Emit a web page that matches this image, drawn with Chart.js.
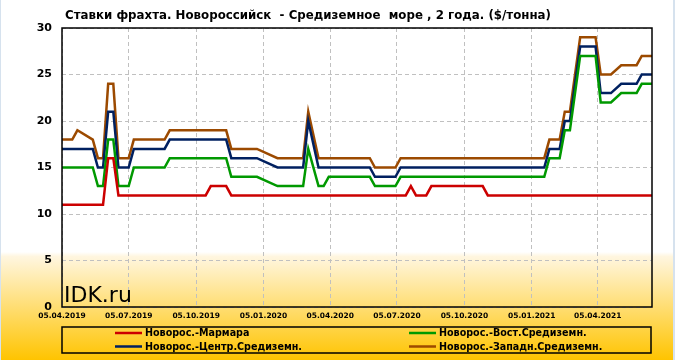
<!DOCTYPE html>
<html><head><meta charset="utf-8">
<script src="https://cdn.jsdelivr.net/npm/chart.js@4.4.1/dist/chart.umd.min.js"></script>
<style>html,body{margin:0;padding:0;background:#fff;overflow:hidden}canvas{display:block}</style>
</head><body>
<canvas id="c" width="675" height="360"></canvas>
<script>
// ---- data (x = days since 05.04.2019) ----
const chartTitle = "Ставки фрахта. Новороссийск  - Средиземное  море , 2 года. ($/тонна)";
const watermark = "IDK.ru";
const tickDays = [0, 91, 183, 275, 366, 457, 549, 641, 731];
const tickLabels = ["05.04.2019","05.07.2019","05.10.2019","05.01.2020","05.04.2020","05.07.2020","05.10.2020","05.01.2021","05.04.2021"];
const yTicks = [0, 5, 10, 15, 20, 25, 30];
const seriesNames = ["Новорос.-Мармара","Новорос.-Вост.Средиземн.","Новорос.-Центр.Средиземн.","Новорос.-Западн.Средиземн."];

const marmaraDays   = [0,56,63,70,77,196,203,224,231,469,476,483,497,504,574,581,805];
const marmaraValues = [11,11,16,16,12,12,13,13,12,12,13,12,12,13,13,12,12];

const eastDays   = [0,42,49,56,63,70,77,91,98,140,147,224,231,266,294,329,336,350,357,364,420,427,455,462,658,665,679,686,693,707,728,735,749,763,784,791,805];
const eastValues = [15,15,13,13,18,18,13,13,15,15,16,16,14,14,13,13,17,13,13,14,14,13,13,14,14,16,16,19,19,27,27,22,22,23,23,24,24];

const centralDays   = [0,42,49,56,63,70,77,91,98,140,147,224,231,266,294,329,336,350,420,427,455,462,658,665,679,686,693,707,728,735,749,763,784,791,805];
const centralValues = [17,17,15,15,21,21,15,15,17,17,18,18,16,16,15,15,20,15,15,14,14,15,15,17,17,20,20,28,28,23,23,24,24,25,25];

const westDays   = [0,14,21,42,49,56,63,70,77,91,98,140,147,224,231,266,294,329,336,350,420,427,455,462,658,665,679,686,693,707,728,735,749,763,784,791,805];
const westValues = [18,18,19,18,16,16,24,24,16,16,18,18,19,19,17,17,16,16,21,16,16,15,15,16,16,18,18,21,21,29,29,25,25,26,26,27,27];

const seriesColors = ["#cc0000","#009900","#002060","#9c4a00"];

// ---- build ----
function pts(days, vals){ return days.map((d,i)=>({x:d, y:vals[i]})); }
const seriesData = [pts(marmaraDays,marmaraValues), pts(eastDays,eastValues), pts(centralDays,centralValues), pts(westDays,westValues)];

function condensedText(ctx, text, x, y, font, sx){
  ctx.save();
  ctx.font = font;
  ctx.translate(x, y);
  ctx.scale(sx, 1);
  ctx.fillText(text, 0, 0);
  ctx.restore();
}
function scaleFor(ctx, font, refText, targetW){
  ctx.font = font;
  return Math.max(0.75, Math.min(1.15, targetW / ctx.measureText(refText).width));
}

const decor = {
  id: 'decor',
  beforeDraw(chart){
    const ctx = chart.ctx, W = chart.width, H = chart.height;
    ctx.save();
    ctx.fillStyle = '#ffffff';
    ctx.fillRect(0,0,W,H);
    const g = ctx.createLinearGradient(0,252,0,H);
    g.addColorStop(0,'rgba(255,255,255,1)');
    g.addColorStop(0.04,'#fff6e0');
    g.addColorStop(1,'#ffc400');
    ctx.fillStyle = g;
    ctx.fillRect(0,252,W,H-252);
    ctx.fillStyle = '#d6e2ee';
    ctx.fillRect(0,0,1,H);
    ctx.fillRect(W-2,0,2,H);
    ctx.restore();
  },
  afterDraw(chart){
    const ctx = chart.ctx, a = chart.chartArea;
    ctx.save();
    ctx.strokeStyle = '#000'; ctx.lineWidth = 1.5;
    ctx.strokeRect(a.left, a.top, a.right-a.left, a.bottom-a.top);
    // title
    ctx.fillStyle = '#000';
    ctx.textBaseline = 'middle'; ctx.textAlign = 'left';
    const tFont = 'bold 12px "DejaVu Sans"';
    condensedText(ctx, chartTitle, 65, 16, tFont, scaleFor(ctx, tFont, chartTitle, 486));
    // watermark
    ctx.font = '22px "DejaVu Sans"';
    ctx.textBaseline = 'alphabetic';
    ctx.fillText(watermark, 64, 302);
    // legend box
    ctx.lineWidth = 1.5;
    ctx.strokeRect(62, 327, 589, 26);
    const cols = [115, 409], rows = [333, 346.5];
    const pos = [[0,0],[1,0],[0,1],[1,1]];
    const lFont = 'bold 10px "DejaVu Sans"';
    const lsx = scaleFor(ctx, lFont, seriesNames[2], 157);
    ctx.textBaseline = 'middle';
    chart.data.datasets.forEach((ds,i)=>{
      const [c,r] = pos[i];
      const x = cols[c], y = rows[r];
      ctx.strokeStyle = ds.borderColor; ctx.lineWidth = 2.5;
      ctx.beginPath(); ctx.moveTo(x, y); ctx.lineTo(x+27, y); ctx.stroke();
      ctx.fillStyle = '#000';
      condensedText(ctx, ds.label, x+30, y+0.5, lFont, lsx);
    });
    ctx.restore();
  }
};

new Chart(document.getElementById('c'), {
  type: 'line',
  data: {
    datasets: seriesData.map((d,i)=>({
      label: seriesNames[i],
      data: d,
      borderColor: seriesColors[i],
      backgroundColor: seriesColors[i],
      borderWidth: 2.5,
      pointRadius: 0,
      tension: 0,
      fill: false
    }))
  },
  options: {
    responsive: false,
    animation: false,
    devicePixelRatio: 1,
    layout: { padding: { top: 28, right: 23, left: 0, bottom: 0 } },
    plugins: { legend: { display: false }, title: { display: false }, tooltip: { enabled: false } },
    scales: {
      x: {
        type: 'linear', min: 0, max: 805,
        afterFit(s){ s.height = 53; },
        afterBuildTicks(s){ s.ticks = tickDays.map(v=>({value:v})); },
        grid: { color: '#c0c0c0', lineWidth: 1, drawTicks: false },
        border: { display: false, dash: [4,3] },
        ticks: {
          padding: 5, maxRotation: 0, autoSkip: false, color: '#000',
          font: { family: 'DejaVu Sans', weight: 'bold', size: 7.5 },
          callback(v){ const i = tickDays.indexOf(v); return i >= 0 ? tickLabels[i] : ''; }
        }
      },
      y: {
        min: 0, max: 30,
        afterFit(s){ s.width = 62; },
        afterBuildTicks(s){ s.ticks = yTicks.map(v=>({value:v})); },
        grid: { color: '#c0c0c0', lineWidth: 1, drawTicks: false },
        border: { display: false, dash: [4,3] },
        ticks: {
          padding: 10, color: '#000',
          font: { family: 'DejaVu Sans', weight: 'bold', size: 11 }
        }
      }
    }
  },
  plugins: [decor]
});
</script>
</body></html>
